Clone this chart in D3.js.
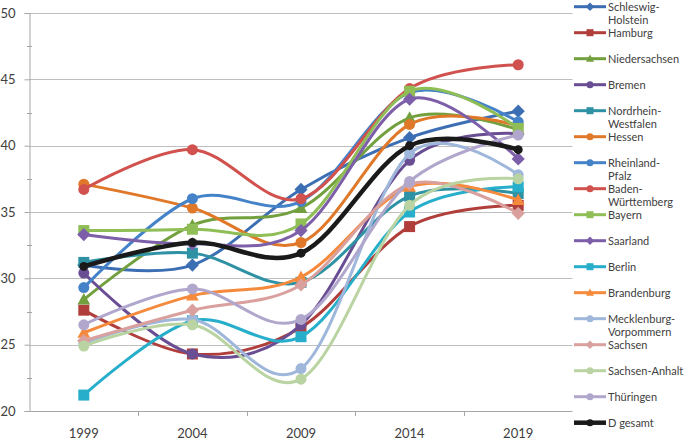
<!DOCTYPE html>
<html><head><meta charset="utf-8">
<script src="https://cdn.jsdelivr.net/npm/d3@7"></script>
<style>body{margin:0;background:#fff}svg{display:block}text{font-family:Lato,"Open Sans",sans-serif;fill:#404040}</style>
</head><body><svg id="c" width="685" height="442"></svg>
<script>
const years = ["1999","2004","2009","2014","2019"];
const yTicks = [20,25,30,35,40,45,50];
const names = ["Schleswig-Holstein","Hamburg","Niedersachsen","Bremen","Nordrhein-Westfalen","Hessen","Rheinland-Pfalz","Baden-Württemberg","Bayern","Saarland","Berlin","Brandenburg","Mecklenburg-Vorpommern","Sachsen","Sachsen-Anhalt","Thüringen","D gesamt"];
const schleswigHolstein = [31.0,31.0,36.7,40.6,42.6];
const hamburg = [27.6,24.3,26.3,33.9,35.5];
const niedersachsen = [28.4,34.0,35.3,42.1,41.2];
const bremen = [30.4,24.3,26.5,38.9,40.9];
const nrw = [31.2,31.9,29.7,36.2,36.4];
const hessen = [37.1,35.3,32.7,41.6,41.5];
const rheinlandPfalz = [29.3,36.0,35.8,44.0,41.8];
const badenWuerttemberg = [36.7,39.7,36.0,44.3,46.1];
const bayern = [33.6,33.7,34.1,44.1,41.3];
const saarland = [33.3,32.6,33.6,43.5,39.0];
const berlin = [21.2,26.8,25.6,35.0,36.9];
const brandenburg = [25.9,28.7,30.1,36.9,35.9];
const mecklenburgVorpommern = [25.1,26.9,23.2,39.4,37.8];
const sachsen = [25.3,27.6,29.5,37.1,34.9];
const sachsenAnhalt = [24.9,26.5,22.4,35.5,37.5];
const thueringen = [26.5,29.2,26.9,37.3,40.8];
const dGesamt = [30.9,32.7,31.9,40.0,39.7];
const seriesValues = [schleswigHolstein,hamburg,niedersachsen,bremen,nrw,hessen,rheinlandPfalz,badenWuerttemberg,bayern,saarland,berlin,brandenburg,mecklenburgVorpommern,sachsen,sachsenAnhalt,thueringen,dGesamt];
const colors = ["#3C6EB4","#B03E3B","#73A03E","#6A4E93","#2E92A4","#E0782A","#4583C9","#D0514D","#8FBE57","#7D5EA9","#27AECB","#F58A3C","#9EB7DA","#D9A09D","#B9D4A2","#B1A7CC","#1A1A1A"];
const markers = ["diamond","square","triangle","circle","square","circle","circle","circle","square","diamond","square","triangle","circle","diamond","circle","circle","circle"];

const svg = d3.select("#c");
const mLeft = 29.5, mRight = 572.5, mTop = 13, mBottom = 411;
const x = d3.scaleBand().domain(years).range([mLeft, mRight]);
const y = d3.scaleLinear().domain([20,50]).range([mBottom, mTop]);

// gridlines
svg.append("g").selectAll("line").data(yTicks.filter(t=>t>20)).join("line")
  .attr("x1",mLeft).attr("x2",mRight).attr("y1",d=>Math.round(y(d))+0.5).attr("y2",d=>Math.round(y(d))+0.5)
  .attr("stroke","#BFBFBF").attr("stroke-width",1);

// y axis
const ya = svg.append("g").attr("transform",`translate(${mLeft},0)`)
  .call(d3.axisLeft(y).tickValues(yTicks).tickSize(5).tickPadding(9).tickFormat(d3.format("d")));
ya.select(".domain").attr("stroke","#A6A6A6");
ya.selectAll(".tick line").attr("stroke","#A6A6A6");
ya.selectAll("text").style("font-size","13px").style("fill","#404040").attr("font-family","Lato");
const minor = d3.range(22.5,50,5);
svg.append("g").selectAll("line").data(minor).join("line")
  .attr("x1",mLeft-2.5).attr("x2",mLeft+2.5).attr("y1",d=>Math.round(y(d))+0.5).attr("y2",d=>Math.round(y(d))+0.5)
  .attr("stroke","#A6A6A6");

// x axis
svg.append("line").attr("x1",mLeft).attr("x2",mRight).attr("y1",mBottom+0.5).attr("y2",mBottom+0.5).attr("stroke","#A6A6A6");
svg.append("g").selectAll("line").data(years.slice(1)).join("line")
  .attr("x1",d=>Math.round(x(d))+0.5).attr("x2",d=>Math.round(x(d))+0.5).attr("y1",mBottom).attr("y2",mBottom+5).attr("stroke","#A6A6A6");
svg.append("g").selectAll("text").data(years).join("text")
  .attr("x",d=>x(d)+x.bandwidth()/2).attr("y",438).attr("text-anchor","middle")
  .style("font-size","13px").text(d=>d);

const cx = d => x(d)+x.bandwidth()/2;
const line = d3.line().x((v,i)=>cx(years[i])).y(v=>y(v)).curve(d3.curveCatmullRom.alpha(0));

function drawMarker(g, type, px, py, color, s){
  if(type==="circle") g.append("circle").attr("cx",px).attr("cy",py).attr("r",s/2).attr("fill",color);
  else if(type==="square") g.append("rect").attr("x",px-s/2).attr("y",py-s/2).attr("width",s).attr("height",s).attr("fill",color);
  else if(type==="diamond") g.append("path").attr("d",`M${px},${py-s*0.6}L${px+s*0.6},${py}L${px},${py+s*0.6}L${px-s*0.6},${py}Z`).attr("fill",color);
  else if(type==="triangle") g.append("path").attr("d",`M${px},${py-s*0.6}L${px+s*0.58},${py+s*0.45}L${px-s*0.58},${py+s*0.45}Z`).attr("fill",color);
}

seriesValues.forEach((vals,k)=>{
  const g = svg.append("g");
  const last = k===seriesValues.length-1;
  g.append("path").attr("d",line(vals)).attr("fill","none").attr("stroke",colors[k]).attr("stroke-width",last?4.5:3);
  vals.forEach((v,i)=>drawMarker(g,markers[k],cx(years[i]),y(v),colors[k],last?9:11));
});

// legend
const lg = svg.append("g");
names.forEach((n,k)=>{
  const ly = 6.7 + k*26;
  const g = lg.append("g");
  g.append("line").attr("x1",574).attr("x2",606).attr("y1",ly).attr("y2",ly).attr("stroke",colors[k]).attr("stroke-width",k===names.length-1?4.5:3);
  drawMarker(g,markers[k],590,ly,colors[k],7);
  const parts = n.length>14 ? [n.slice(0,n.indexOf("-")+1), n.slice(n.indexOf("-")+1)] : [n];
  const t = g.append("text").attr("x",608).attr("y",ly+4).style("font-size","11px");
  parts.forEach((p,j)=>t.append("tspan").attr("x",608).attr("dy",j?13.5:0).text(p));
});
</script></body></html>
